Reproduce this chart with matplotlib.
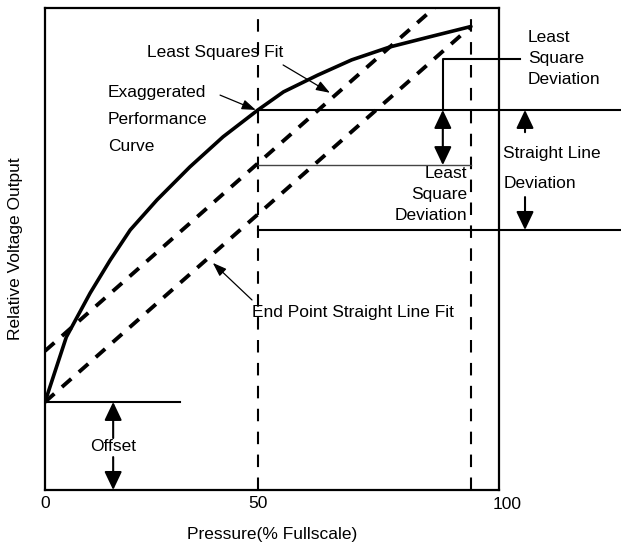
import matplotlib.pyplot as plt
from matplotlib import font_manager

# Fuente estrecha si existe
names = {f.name for f in font_manager.fontManager.ttflist}
if 'Liberation Sans Narrow' in names:
    fam, fs = 'Liberation Sans Narrow', 14.5
else:
    fam, fs = 'Liberation Sans', 12.5
plt.rcParams['font.family'] = [fam, 'DejaVu Sans']
plt.rcParams['font.size'] = fs

# Curva de rendimiento (exagerada)
pressure = [0, 5, 10.6, 15.3, 20, 26.3, 34, 41.8, 50, 56, 64, 72, 81, 90, 100]
output = [19, 33, 42.5, 49.6, 56.1, 62.6, 69.7, 76.2, 82, 85.9, 89.5, 92.8, 95.6, 97.7, 100]

# Rectas de ajuste
end_point_x = [0, 100]
end_point_y = [19, 100]
least_sq_x = [0, 100]
least_sq_y = [30, 111]

# Niveles de referencia
curve_at_50 = 82
lsq_at_50 = 70.1
endpt_at_50 = 56.1
offset = 19
x_ticks = [0, 50]
x_tick_labels = ['0', '50']

fig = plt.figure(figsize=(6.21, 5.5), dpi=100)
ax = fig.add_axes([0.0725, 0.1091, 0.7311, 0.8764])
ax.set_xlim(0, 106.6)
ax.set_ylim(0, 104)

for s in ax.spines.values():
    s.set_linewidth(1.6)

ax.set_xticks(x_ticks)
ax.set_xticklabels(x_tick_labels)
ax.set_yticks([])
ax.tick_params(axis='x', length=0, pad=4)
ax.annotate('100', xy=(1.0, 0), xycoords='axes fraction', xytext=(6, -5),
            textcoords='offset points', ha='center', va='top')
ax.set_xlabel('Pressure(% Fullscale)', labelpad=12)
ax.set_ylabel('Relative Voltage Output', labelpad=16)

# Lineas verticales discontinuas
for xv in [50, 100]:
    ax.axvline(xv, color='black', lw=1.5, dashes=(6, 5))

# Curva y rectas
ax.plot(pressure, output, color='black', lw=2.6, solid_capstyle='round')
ax.plot(end_point_x, end_point_y, color='black', lw=2.8, dashes=(3.2, 2.6))
ax.plot(least_sq_x, least_sq_y, color='black', lw=2.8, dashes=(3.2, 2.6))

# Lineas horizontales
ax.plot([50, 136], [curve_at_50, curve_at_50], color='black', lw=1.5, clip_on=False)
ax.plot([50, 100], [lsq_at_50, lsq_at_50], color='#444444', lw=1.0)
ax.plot([50, 136], [endpt_at_50, endpt_at_50], color='black', lw=1.5, clip_on=False)
ax.plot([0, 31.7], [offset, offset], color='black', lw=1.5)
ax.plot([93.4, 93.4, 111.5], [curve_at_50, 93, 93], color='black', lw=1.5, clip_on=False)

big = dict(arrowstyle='-|>,head_length=0.8,head_width=0.38', color='black',
           lw=1.5, mutation_scale=14, shrinkA=0, shrinkB=0)
dbl = dict(arrowstyle='<|-|>,head_length=0.8,head_width=0.38', color='black',
           lw=1.5, mutation_scale=14, shrinkA=0, shrinkB=0)
thin = dict(arrowstyle='-|>,head_length=0.7,head_width=0.25', color='black',
            lw=0.9, mutation_scale=12, shrinkA=0, shrinkB=0)

# Desviacion minimos cuadrados
ax.annotate('', xy=(93.4, curve_at_50), xytext=(93.4, lsq_at_50), arrowprops=dbl,
            annotation_clip=False)
# Desviacion linea recta
ax.annotate('', xy=(112.7, curve_at_50), xytext=(112.7, 77.2), arrowprops=big,
            annotation_clip=False)
ax.annotate('', xy=(112.7, endpt_at_50), xytext=(112.7, 63.2), arrowprops=big,
            annotation_clip=False)
# Offset
ax.annotate('', xy=(16, offset), xytext=(16, 11.2), arrowprops=big)
ax.annotate('', xy=(16, 0), xytext=(16, 7.1), arrowprops=big)
ax.text(16, 9.3, 'Offset', ha='center', va='center')

# Etiquetas con flechas
ax.text(39.9, 94.5, 'Least Squares Fit', ha='center', va='center')
ax.annotate('', xy=(66.9, 85.7), xytext=(55.9, 91.7), arrowprops=thin)
ax.text(14.8, 87.3, 'Exaggerated\nPerformance\nCurve', ha='left', va='top',
        linespacing=2.0)
ax.annotate('', xy=(49.5, 82.0), xytext=(41.1, 85.2), arrowprops=thin)
ax.text(48.6, 38.2, 'End Point Straight Line Fit', ha='left', va='center')
ax.annotate('', xy=(39.4, 49.0), xytext=(48.6, 41.0), arrowprops=thin)

ax.text(99.1, 69.8, 'Least\nSquare\nDeviation', ha='right', va='top',
        linespacing=1.5)
ax.text(113.4, 99.3, 'Least\nSquare\nDeviation', ha='left', va='top',
        linespacing=1.5, clip_on=False)
ax.text(107.6, 72.5, 'Straight Line', ha='left', va='center', clip_on=False)
ax.text(107.6, 66.2, 'Deviation', ha='left', va='center', clip_on=False)

fig.savefig('out.png', dpi=100)
